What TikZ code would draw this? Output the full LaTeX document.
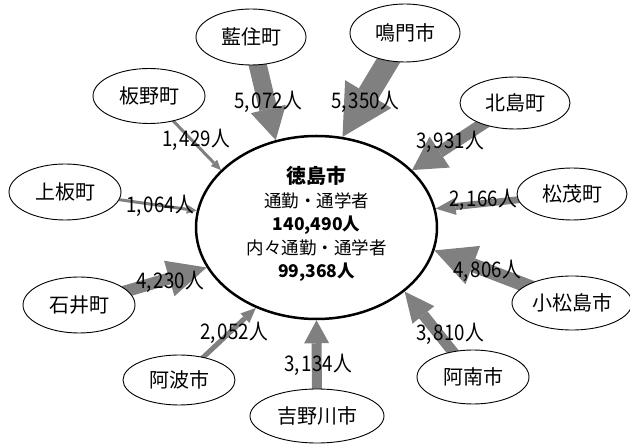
\documentclass[tikz,border=0pt]{standalone}
\usepackage{fontspec}
\usepackage{graphicx}
\setmainfont{Noto Sans CJK JP}
\usetikzlibrary{arrows.meta,backgrounds,shapes.geometric}
\definecolor{agray}{RGB}{128,128,128}
\newcommand\mylab[2]{\scalebox{0.87}[1]{#1,\hspace{2.5pt}#2}}
\tikzset{
 sat/.style={ellipse, draw=black, line width=0.9pt, fill=white, inner sep=0pt, font=\fontsize{20}{20}\selectfont},
 cnt/.style={ellipse, draw=black, line width=2.5pt, fill=white, inner sep=0pt, minimum width=241pt, minimum height=183pt},
 lab/.style={font=\fontsize{21.5}{21.5}\selectfont, inner sep=0pt},
 fat/.style n args={3}{agray, line width=#1pt, -{Triangle[width=#2pt,length=#3pt,line width=0pt]}},
}
\begin{document}
\begin{tikzpicture}[x=1pt,y=-1pt]
\useasboundingbox (0,0) rectangle (630,446);
% centre
\node[cnt] (toku) at (316.5,227.5) {};
\node[align=center, font=\fontsize{17.5}{23.5}\selectfont, inner sep=0pt] (tokutext) at (316.5,224)
 {{\bfseries\fontsize{20}{23.5}\selectfont 徳島市}\\通勤・通学者\\{\bfseries 140,490人}\\内々通勤・通学者\\{\bfseries 99,368人}};
% satellites
\node[sat, minimum width=110pt, minimum height=56pt] (aizumi) at (251,37) {藍住町};
\node[sat, minimum width=110pt, minimum height=58pt] (naruto) at (405,33) {鳴門市};
\node[sat, minimum width=110pt, minimum height=52pt] (kitajima) at (515,103) {北島町};
\node[sat, minimum width=110pt, minimum height=52pt] (matsushige) at (572,194) {松茂町};
\node[sat, minimum width=120pt, minimum height=54pt] (komatsu) at (572,303) {小松島市};
\node[sat, minimum width=112pt, minimum height=54pt] (anan) at (473,377) {阿南市};
\node[sat, minimum width=134pt, minimum height=54pt] (yoshino) at (317,416) {吉野川市};
\node[sat, minimum width=112pt, minimum height=50pt] (awa) at (179,380) {阿波市};
\node[sat, minimum width=112pt, minimum height=56pt] (ishii) at (79,305) {石井町};
\node[sat, minimum width=112pt, minimum height=56pt] (kamiita) at (65,192) {上板町};
\node[sat, minimum width=112pt, minimum height=55pt] (itano) at (149,96) {板野町};
% arrows
\begin{pgfonlayer}{background}
\draw[fat={18}{36}{32}] (aizumi.center) -- (toku.115.7);
\draw[fat={22}{54}{50}] (naruto.center) -- (toku.74.9);
\draw[fat={12}{37}{33}] (kitajima.center) -- (toku.31.9);
\draw[fat={7}{17}{20}] (matsushige.center) -- (toku.9.5);
\draw[fat={14}{41}{41}] (komatsu.center) -- (toku.-11.9);
\draw[fat={11}{28}{30}] (anan.center) -- (toku.-36.4);
\draw[fat={10}{25}{23}] (yoshino.center) -- (toku.-90);
\draw[fat={5}{13}{15}] (awa.center) -- (toku.-127.4);
\draw[fat={12}{37}{39}] (ishii.center) -- (toku.-160.2);
\draw[fat={3}{9}{10}] (kamiita.center) -- (toku.172);
\draw[fat={3}{9}{10}] (itano.center) -- (toku.149.3);
\end{pgfonlayer}
% labels
\node[lab] (l1) at (268,102) {\mylab{5}{072人}};
\node[lab] (l2) at (365,102) {\mylab{5}{350人}};
\node[lab] (l3) at (196,140) {\mylab{1}{429人}};
\node[lab] (l4) at (450,142) {\mylab{3}{931人}};
\node[lab] (l5) at (483,200) {\mylab{2}{166人}};
\node[lab] (l6) at (160,206) {\mylab{1}{064人}};
\node[lab] (l7) at (170,282) {\mylab{4}{230人}};
\node[lab] (l8) at (234,333) {\mylab{2}{052人}};
\node[lab] (l9) at (318,365) {\mylab{3}{134人}};
\node[lab] (l10) at (450,334) {\mylab{3}{810人}};
\node[lab] (l11) at (487,271) {\mylab{4}{806人}};
\end{tikzpicture}
\end{document}
